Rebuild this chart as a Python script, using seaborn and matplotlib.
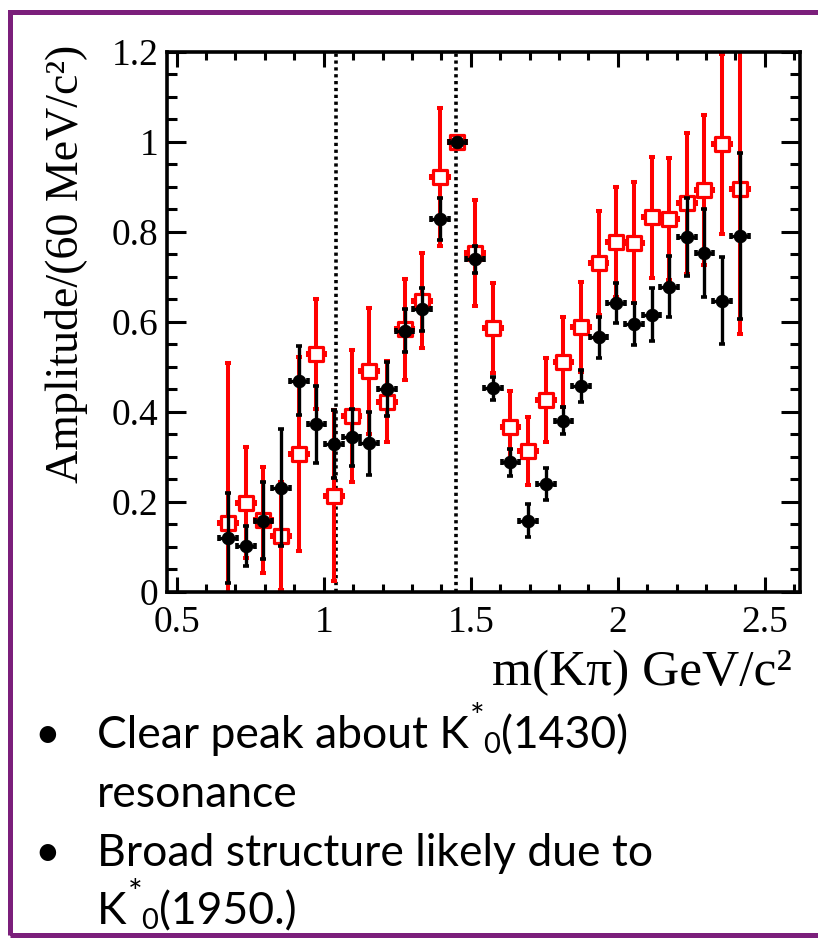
import matplotlib
matplotlib.use("Agg")
import matplotlib.pyplot as plt
import matplotlib.ticker as mticker
from matplotlib.patches import Rectangle
import seaborn as sns
import pandas as pd

# ---------------- data ----------------
mass = [0.675, 0.735, 0.795, 0.855, 0.915, 0.975, 1.035, 1.095, 1.155, 1.215,
        1.275, 1.335, 1.395, 1.455, 1.515, 1.575, 1.635, 1.695, 1.755, 1.815,
        1.875, 1.935, 1.995, 2.055, 2.115, 2.175, 2.235, 2.295, 2.355, 2.415]
half_bin = [0.03] * len(mass)

black_amp = [0.119, 0.102, 0.158, 0.231, 0.469, 0.372, 0.328, 0.343, 0.330, 0.450,
             0.580, 0.628, 0.828, 1.000, 0.739, 0.452, 0.288, 0.158, 0.239, 0.380,
             0.457, 0.565, 0.642, 0.595, 0.616, 0.678, 0.789, 0.753, 0.647, 0.790]
black_err = [0.100, 0.044, 0.086, 0.130, 0.077, 0.085, 0.076, 0.063, 0.070, 0.060,
             0.048, 0.048, 0.047, 0.000, 0.030, 0.025, 0.030, 0.037, 0.035, 0.030,
             0.035, 0.045, 0.045, 0.047, 0.058, 0.068, 0.087, 0.098, 0.096, 0.184]

red_amp = [0.153, 0.198, 0.159, 0.124, 0.306, 0.528, 0.213, 0.390, 0.491, 0.422,
           0.583, 0.647, 0.922, 1.000, 0.752, 0.585, 0.365, 0.313, 0.426, 0.511,
           0.589, 0.730, 0.778, 0.776, 0.832, 0.828, 0.863, 0.893, 0.996, 0.894]
red_err = [0.355, 0.124, 0.118, 0.120, 0.215, 0.122, 0.190, 0.147, 0.140, 0.090,
           0.113, 0.106, 0.154, 0.000, 0.118, 0.100, 0.082, 0.076, 0.094, 0.100,
           0.100, 0.115, 0.122, 0.134, 0.134, 0.136, 0.157, 0.167, 0.200, 0.322]

dotted_lines = [1.043, 1.449]

x_ticks = [0.5, 1.0, 1.5, 2.0, 2.5]
y_ticks = [0.0, 0.2, 0.4, 0.6, 0.8, 1.0, 1.2]

x_label = "m(K\u03c0) GeV/c\u00b2"
y_label = "Amplitude/(60 MeV/c\u00b2)"
# each bullet line: (has bullet mark, text before, superscript, subscript, text after)
bullet_lines = [
    (True, "Clear peak about K", "*", "0", "(1430)"),
    (False, "resonance", "", "", ""),
    (True, "Broad structure likely due to", "", "", ""),
    (False, "K", "*", "0", "(1950.)"),
]

# ---------------- style ----------------
W, H = 818, 938
sns.set_style("ticks")
plt.rcParams["font.family"] = ["Liberation Serif", "DejaVu Serif"]
for key in ["text.color", "axes.labelcolor", "xtick.color", "ytick.color",
            "axes.edgecolor"]:
    plt.rcParams[key] = "black"

fig = plt.figure(figsize=(W / 100, H / 100), dpi=100)
fig.patch.set_facecolor("white")

def px_axes(l, t, r, b):
    return [l / W, 1 - b / H, (r - l) / W, (b - t) / H]

ax = fig.add_axes(px_axes(166.7, 51.7, 800, 591.7))
ax.set_facecolor("white")

df_black = pd.DataFrame({"m": mass, "amp": black_amp, "err": black_err, "xe": half_bin})
df_red = pd.DataFrame({"m": mass, "amp": red_amp, "err": red_err, "xe": half_bin})

# dotted guide lines
for xv in dotted_lines:
    ax.axvline(xv, color="black", lw=2.6, ls=(0, (0.9, 1.0)), zorder=1)

# red series (open squares)
ax.errorbar(df_red["m"], df_red["amp"], yerr=df_red["err"], xerr=df_red["xe"],
            fmt="none", ecolor="#ff0000", elinewidth=2.9, capsize=2.2,
            capthick=2.9, zorder=2)
sns.scatterplot(data=df_red, x="m", y="amp", marker="s", s=95,
                facecolor="white", edgecolor="#ff0000", linewidth=2.3,
                ax=ax, zorder=3, legend=False)

# black series (filled circles)
ax.errorbar(df_black["m"], df_black["amp"], yerr=df_black["err"], xerr=df_black["xe"],
            fmt="none", ecolor="black", elinewidth=2.4, capsize=2.0,
            capthick=2.6, zorder=4)
sns.scatterplot(data=df_black, x="m", y="amp", marker="o", s=85,
                color="black", edgecolor="black", linewidth=0.5,
                ax=ax, zorder=5, legend=False)

ax.set_xlim(0.466, 2.62)
ax.set_ylim(0, 1.2)

ax.set_xticks(x_ticks)
ax.set_yticks(y_ticks)
ax.xaxis.set_minor_locator(mticker.MultipleLocator(0.1))
ax.yaxis.set_minor_locator(mticker.MultipleLocator(0.05))
fmt = mticker.FuncFormatter(lambda v, p: "%g" % v)
ax.xaxis.set_major_formatter(fmt)
ax.yaxis.set_major_formatter(fmt)

for s in ax.spines.values():
    s.set_linewidth(2.6)
    s.set_color("black")
    s.set_visible(True)

ax.tick_params(axis="both", which="both", direction="in", top=True, right=True,
               width=2.2, colors="black", labelcolor="black")
ax.tick_params(axis="x", which="major", length=11, pad=10, labelsize=27)
ax.tick_params(axis="x", which="minor", length=5.5)
ax.tick_params(axis="y", which="major", length=14, pad=6, labelsize=27)
ax.tick_params(axis="y", which="minor", length=7)

ax.set_xlabel(x_label, fontsize=37, loc="right", color="black")
ax.xaxis.label.set_va("baseline")
ax.xaxis.set_label_coords((792 - 166.7) / 633.3, (591.7 - 685) / 540)

ax.set_ylabel(y_label, fontsize=33, loc="top", color="black")
ax.yaxis.label.set_va("baseline")
ax.yaxis.set_label_coords((78 - 166.7) / 633.3, 1.012)

# bullet text, built from pieces so the K*0 scripts sit like the original
renderer = fig.canvas.get_renderer()
sans = ["Lato", "DejaVu Sans"]
main_size = 32
baselines = [748, 807, 866, 924]
for (mark, pre, sup, sub, post), yb in zip(bullet_lines, baselines):
    yf = 1 - yb / H
    if mark:
        fig.text(34 / W, yf, "\u2022", fontsize=main_size, family=sans,
                 va="baseline", ha="left", color="black")
    t = fig.text(97 / W, yf, pre, fontsize=main_size, family=sans,
                 va="baseline", ha="left", color="black")
    x_end = t.get_window_extent(renderer).x1
    if sup:
        ts = fig.text((x_end + 1) / W, 1 - (yb - 20) / H, sup, fontsize=25,
                      family=sans, va="baseline", ha="left", color="black")
        x_sup = ts.get_window_extent(renderer).x1
        tb = fig.text((x_sup - 1) / W, 1 - (yb + 5) / H, sub, fontsize=21,
                      family=sans, va="baseline", ha="left", color="black")
        x_end = tb.get_window_extent(renderer).x1
    if post:
        fig.text((x_end + 1) / W, yf, post, fontsize=main_size, family=sans,
                 va="baseline", ha="left", color="black")

# purple slide frame
frame = Rectangle((10 / W, 1 - 935 / H), (840 - 10) / W, (935 - 12) / H,
                  transform=fig.transFigure, fill=False, edgecolor="#7b1f7b",
                  linewidth=3.6, zorder=10, clip_on=False)
fig.patches.append(frame)

fig.savefig("out.png", dpi=100, facecolor="white")
